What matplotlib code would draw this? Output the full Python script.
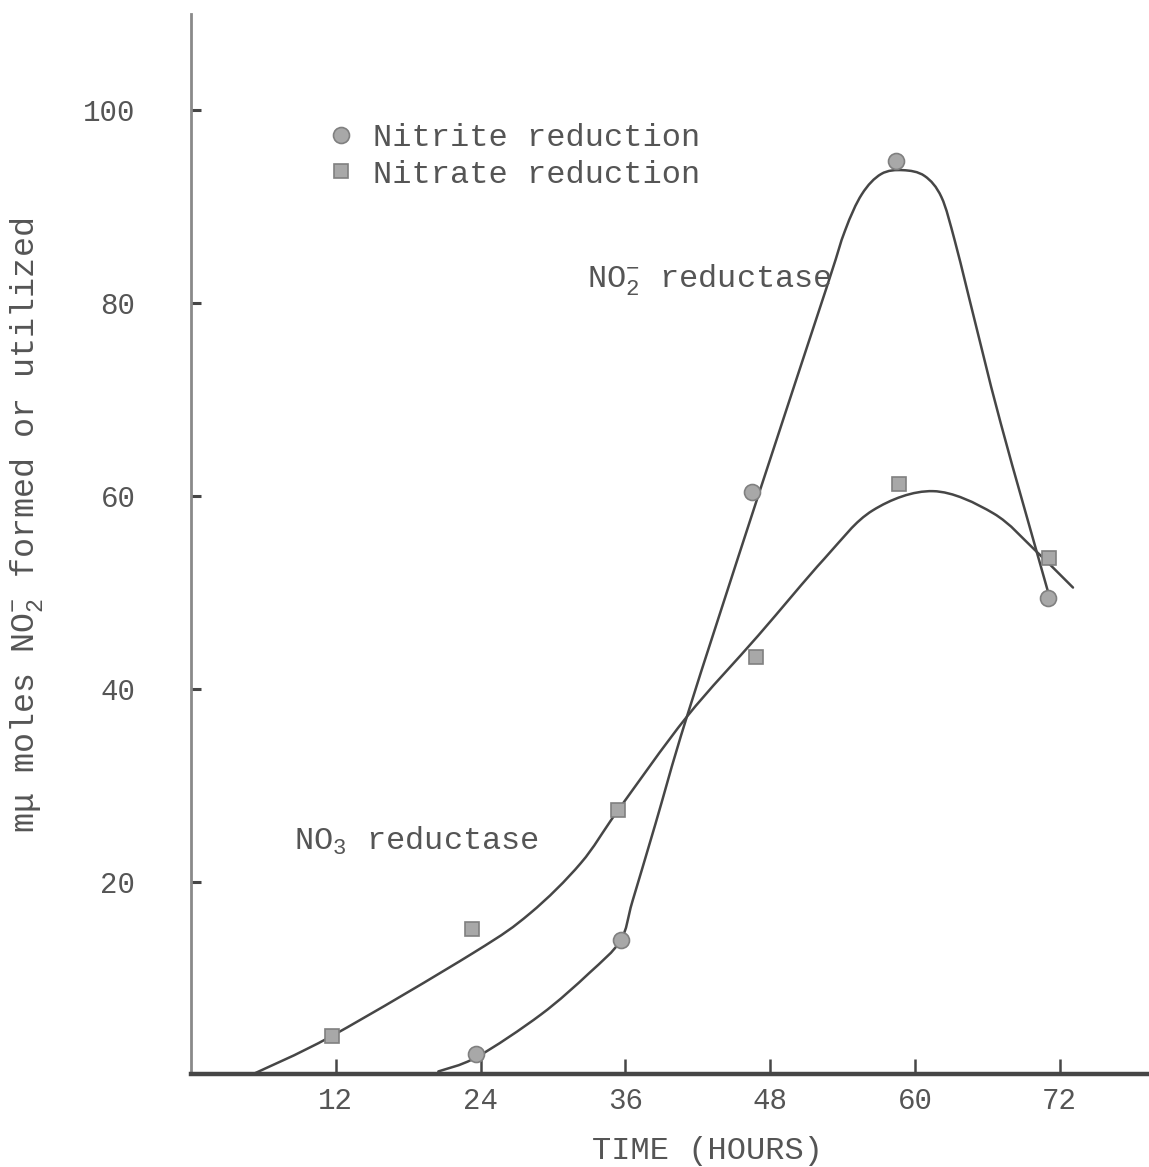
import matplotlib
matplotlib.use("Agg")
import matplotlib.pyplot as plt
from matplotlib.path import Path
from matplotlib.patches import PathPatch

plt.rcParams['font.family'] = ['Liberation Mono', 'DejaVu Sans Mono']
plt.rcParams['mathtext.fontset'] = 'custom'
plt.rcParams['mathtext.rm'] = 'Liberation Mono'
plt.rcParams['mathtext.it'] = 'Liberation Mono'

# measured points (hours, m-micromoles NO2-)
nitrite_hours = [23.6, 35.6, 46.5, 58.4, 71.0]
nitrite_vals = [2.1, 13.9, 60.4, 94.7, 49.4]

nitrate_hours = [11.7, 23.3, 35.4, 46.8, 58.7, 71.1]
nitrate_vals = [4.0, 15.1, 27.4, 43.3, 61.2, 53.6]

# hand-drawn trend curves, traced point by point
no2_curve_hours = [20.5, 23.7, 29.0, 33.0, 35.6, 36.6, 38.5, 41.1, 46.9, 52.7,
                   54.2, 55.6, 57.2, 59.0, 60.8, 62.2, 63.3, 64.5, 67.1, 71.0]
no2_curve_vals = [0.3, 1.8, 6.2, 10.5, 13.9, 18.0, 26.0, 37.1, 59.6, 81.7,
                  87.5, 91.3, 93.4, 93.8, 93.2, 91.0, 86.5, 80.5, 67.6, 50.2]

no3_curve_hours = [5.1, 11.7, 23.4, 28.1, 32.3, 35.4, 41.1, 47.0, 52.5, 56.5,
                   61.5, 66.5, 70.1, 73.1]
no3_curve_vals = [0.0, 4.0, 12.6, 16.7, 21.9, 27.4, 37.1, 45.5, 53.5, 58.5,
                  60.5, 58.2, 54.2, 50.5]

xticks = [12, 24, 36, 48, 60, 72]
yticks = [20, 40, 60, 80, 100]

ink = '#464646'
text_col = '#555555'


def smooth_path(xs, ys):
    # bezier segments through the traced points (catmull-rom handles)
    pts = list(zip(xs, ys))
    verts = [pts[0]]
    codes = [Path.MOVETO]
    for i in range(len(pts) - 1):
        p0 = pts[i - 1] if i > 0 else pts[i]
        p1 = pts[i]
        p2 = pts[i + 1]
        p3 = pts[i + 2] if i + 2 < len(pts) else p2
        c1 = (p1[0] + (p2[0] - p0[0]) / 6, p1[1] + (p2[1] - p0[1]) / 6)
        c2 = (p2[0] - (p3[0] - p1[0]) / 6, p2[1] - (p3[1] - p1[1]) / 6)
        verts += [c1, c2, p2]
        codes += [Path.CURVE4] * 3
    return Path(verts, codes)


fig = plt.figure(figsize=(11.49, 11.67), dpi=100)
ax = fig.add_axes([0.1662, 0.0794, 0.8338, 0.9086])

for hx, vy in [(no2_curve_hours, no2_curve_vals), (no3_curve_hours, no3_curve_vals)]:
    ax.add_patch(PathPatch(smooth_path(hx, vy), fill=False, edgecolor=ink,
                           lw=1.8, capstyle='round', joinstyle='round', zorder=2))

ax.plot(nitrite_hours, nitrite_vals, 'o', ms=11.5, mfc='#a8a8a8', mec='#808080',
        mew=1.2, ls='none', label='Nitrite reduction', zorder=3)
ax.plot(nitrate_hours, nitrate_vals, 's', ms=9.5, mfc='#a8a8a8', mec='#808080',
        mew=1.2, ls='none', label='Nitrate reduction', zorder=3)

ax.set_xlim(0, 79.4)
ax.set_ylim(0, 110)

for side in ['top', 'right']:
    ax.spines[side].set_visible(False)
ax.spines['left'].set_color('#8a8a8a')
ax.spines['left'].set_linewidth(2)
ax.spines['bottom'].set_color(ink)
ax.spines['bottom'].set_linewidth(3.2)

ax.set_xticks(xticks)
ax.set_yticks(yticks)
ax.tick_params(axis='x', direction='in', length=11, width=1.8, color=ink,
               labelsize=21, labelcolor=text_col, pad=9)
ax.tick_params(axis='y', direction='in', length=7, width=2.2, color=ink,
               labelsize=21, labelcolor=text_col, pad=40)

ax.set_xlabel('TIME (HOURS)', fontsize=23, color=text_col)
ax.xaxis.set_label_coords(0.539, -0.058)
ax.set_ylabel('m\u03bc moles NO$_2^{-}$ formed or utilized', fontsize=24,
              color=text_col)
ax.yaxis.set_label_coords(-0.152, 0.518)

ax.text(32.8, 81.6, 'NO$_2^{-}$ reductase', fontsize=23, color=text_col,
        va='baseline', ha='left')
ax.text(8.5, 23.3, 'NO$_3$ reductase', fontsize=23, color=text_col,
        va='baseline', ha='left')

leg = ax.legend(loc='upper left', bbox_to_anchor=(0.130, 0.909), frameon=False,
                fontsize=23, handlelength=0.8, handletextpad=0.6,
                labelspacing=0.2, borderaxespad=0)
for t in leg.get_texts():
    t.set_color(text_col)

fig.savefig('out.png', dpi=100)
